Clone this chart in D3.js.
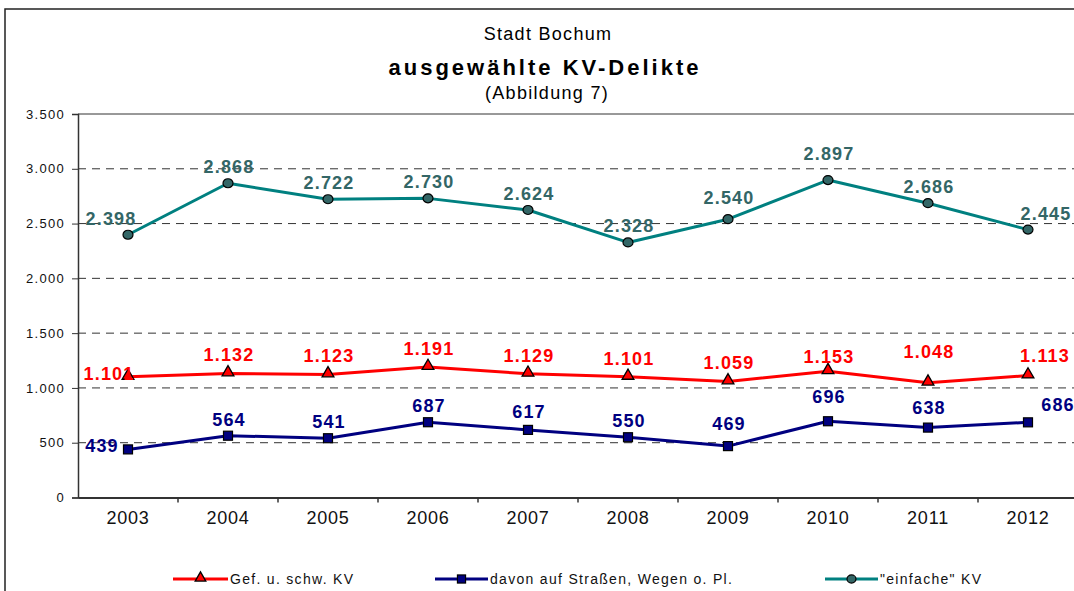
<!doctype html>
<html lang="de">
<head>
<meta charset="UTF-8">
<title>ausgewählte KV-Delikte</title>
<style>
  body { margin: 0; background: #fff; }
  svg { display: block; font-family: "Liberation Sans", Arial, sans-serif; }
  .grid line { stroke: #333; stroke-width: 1; stroke-dasharray: 8 6; }
  .yaxis text { font-size: 13px; letter-spacing: 1.3px; fill: #111; }
  .xaxis text { font-size: 18px; letter-spacing: 0.8px; fill: #111; }
  .val { font-size: 18px; font-weight: bold; letter-spacing: 1.2px; }
  .leg text { font-size: 14px; letter-spacing: 1.3px; fill: #111; }
</style>
</head>
<body>
<svg id="chart" width="1074" height="591"></svg>
<script src="https://cdn.jsdelivr.net/npm/d3@7"></script>
<script>
// data
var years = ["2003", "2004", "2005", "2006", "2007", "2008", "2009", "2010", "2011", "2012"];
var gefSchwKV = [1101, 1132, 1123, 1191, 1129, 1101, 1059, 1153, 1048, 1113];
var davonStrassen = [439, 564, 541, 687, 617, 550, 469, 696, 638, 686];
var einfacheKV = [2398, 2868, 2722, 2730, 2624, 2328, 2540, 2897, 2686, 2445];
var yTicks = [0, 500, 1000, 1500, 2000, 2500, 3000, 3500];

var series = [
  { name: "\"einfache\" KV", values: einfacheKV, line: "#008080", fill: "#336666", label: "#336666", marker: "circle", up: -16 },
  { name: "Gef. u. schw. KV", values: gefSchwKV, line: "#ff0000", fill: "#ff0000", label: "#ff0000", marker: "triangle", up: -18 },
  { name: "davon auf Straßen, Wegen o. Pl.", values: davonStrassen, line: "#000080", fill: "#000080", label: "#000080", marker: "square", up: -16 }
];

// label placement tweaks (first / last points and a few Excel nudges)
var firstShift = { circle: [-18, -16], triangle: [-20, -3], square: [-27, -3] };
var lastShift = { circle: [17, -16], triangle: [16, -20], square: [29, -17] };
var nudge = { "circle-2009": -21, "circle-2010": -26, "triangle-2010": -14, "triangle-2011": -31,
              "square-2007": -18, "square-2009": -22, "square-2010": -24, "square-2011": -20 };

var de = d3.formatLocale({ decimal: ",", thousands: ".", grouping: [3], currency: ["", " €"] });
var fmt = de.format(",d");

var svg = d3.select("#chart");
var plotLeft = 78, plotRight = 1078, plotTop = 114, plotBottom = 497.5;

var x = d3.scaleBand().domain(years).range([plotLeft, plotRight]);
var cx = function(d) { return x(d) + x.bandwidth() / 2; };
var y = d3.scaleLinear().domain([0, 3500]).range([plotBottom, plotTop]);

// outer frame
svg.append("rect").attr("x", 5).attr("y", 9).attr("width", 1090).attr("height", 600)
  .attr("fill", "none").attr("stroke", "#222").attr("stroke-width", 1.5);

// titles
svg.append("text").attr("x", 548).attr("y", 40).attr("text-anchor", "middle")
  .style("font-size", "18px").style("letter-spacing", "1.3px").text("Stadt Bochum");
svg.append("text").attr("x", 545).attr("y", 75).attr("text-anchor", "middle")
  .style("font-size", "22px").style("font-weight", "bold").style("letter-spacing", "3px")
  .text("ausgewählte KV-Delikte");
svg.append("text").attr("x", 547).attr("y", 99).attr("text-anchor", "middle")
  .style("font-size", "18px").style("letter-spacing", "1.3px").text("(Abbildung 7)");

// gridlines
svg.append("g").attr("class", "grid").selectAll("line")
  .data(yTicks.filter(function(t) { return t > 0 && t < 3500; }))
  .join("line")
  .attr("x1", plotLeft).attr("x2", plotRight)
  .attr("y1", function(d) { return y(d); }).attr("y2", function(d) { return y(d); });
svg.append("line").attr("x1", plotLeft).attr("x2", plotRight).attr("y1", y(3500)).attr("y2", y(3500))
  .attr("stroke", "#333").attr("stroke-width", 1);

// y axis
var yAxis = svg.append("g").attr("class", "yaxis").attr("transform", "translate(" + plotLeft + ",0)")
  .call(d3.axisLeft(y).tickValues(yTicks).tickFormat(fmt).tickSize(6).tickPadding(7));
yAxis.select(".domain").attr("stroke", "#333").attr("stroke-width", 1.5);
yAxis.selectAll(".tick line").attr("stroke", "#333");
yAxis.attr("font-family", null).attr("font-size", null);

// x axis
var xAxis = svg.append("g").attr("class", "xaxis").attr("transform", "translate(0," + plotBottom + ")")
  .call(d3.axisBottom(x).tickSize(0).tickPadding(14).tickSizeOuter(0));
xAxis.select(".domain").attr("stroke", "#333").attr("stroke-width", 2);
xAxis.attr("font-family", null).attr("font-size", null);
xAxis.selectAll(".bound").data(years.slice(1)).join("line").attr("class", "bound")
  .attr("x1", function(d) { return x(d); }).attr("x2", function(d) { return x(d); })
  .attr("y1", 0).attr("y2", 5).attr("stroke", "#333").attr("stroke-width", 1.5);

var line = d3.line().x(function(d, i) { return cx(years[i]); }).y(function(d) { return y(d); });

function drawMarker(g, type, fill, s) {
  if (type === "circle") {
    g.append("ellipse").attr("rx", 5 * s).attr("ry", 4.5 * s).attr("fill", fill).attr("stroke", "#000").attr("stroke-width", 1.2);
  } else if (type === "triangle") {
    g.append("path").attr("d", d3.symbol().type(d3.symbolTriangle).size(60 * s * s))
      .attr("transform", "translate(0,-1)")
      .attr("fill", fill).attr("stroke", "#000").attr("stroke-width", 1.3);
  } else {
    g.append("rect").attr("x", -4.5 * s).attr("y", -4.5 * s).attr("width", 9 * s).attr("height", 9 * s)
      .attr("fill", fill).attr("stroke", "#000").attr("stroke-width", 1.2);
  }
}

series.forEach(function(s) {
  svg.append("path").datum(s.values).attr("d", line)
    .attr("fill", "none").attr("stroke", s.line).attr("stroke-width", 3).attr("stroke-linejoin", "round");

  s.values.forEach(function(v, i) {
    var g = svg.append("g").attr("transform", "translate(" + cx(years[i]) + "," + y(v) + ")");
    drawMarker(g, s.marker, s.fill, 1);
  });

  svg.append("g").selectAll("text").data(s.values).join("text")
    .attr("class", "val")
    .attr("fill", s.label)
    .attr("text-anchor", "middle")
    .attr("dominant-baseline", "central")
    .attr("x", function(d, i) {
      var dx = 0;
      if (i === 0) dx = firstShift[s.marker][0];
      if (i === years.length - 1) dx = lastShift[s.marker][0];
      return cx(years[i]) + dx + 1;
    })
    .attr("y", function(d, i) {
      var dy = s.up;
      var k = s.marker + "-" + years[i];
      if (nudge[k] !== undefined) dy = nudge[k];
      if (i === 0) dy = firstShift[s.marker][1];
      if (i === years.length - 1) dy = lastShift[s.marker][1];
      return y(d) + dy;
    })
    .text(function(d) { return fmt(d); });
});

// legend
var legendItems = [
  { s: series[1], x0: 173, x1: 228, tx: 230 },
  { s: series[2], x0: 435, x1: 488, tx: 490 },
  { s: series[0], x0: 825, x1: 878, tx: 880 }
];
var leg = svg.append("g").attr("class", "leg");
legendItems.forEach(function(it) {
  var ly = 579;
  leg.append("line").attr("x1", it.x0).attr("x2", it.x1).attr("y1", ly).attr("y2", ly)
    .attr("stroke", it.s.line).attr("stroke-width", 3);
  var g = leg.append("g").attr("transform", "translate(" + (it.x0 + it.x1) / 2 + "," + ly + ")");
  drawMarker(g, it.s.marker, it.s.fill, 0.9);
  leg.append("text").attr("x", it.tx).attr("y", ly).attr("dominant-baseline", "central").text(it.s.name);
});
</script>
</body>
</html>
